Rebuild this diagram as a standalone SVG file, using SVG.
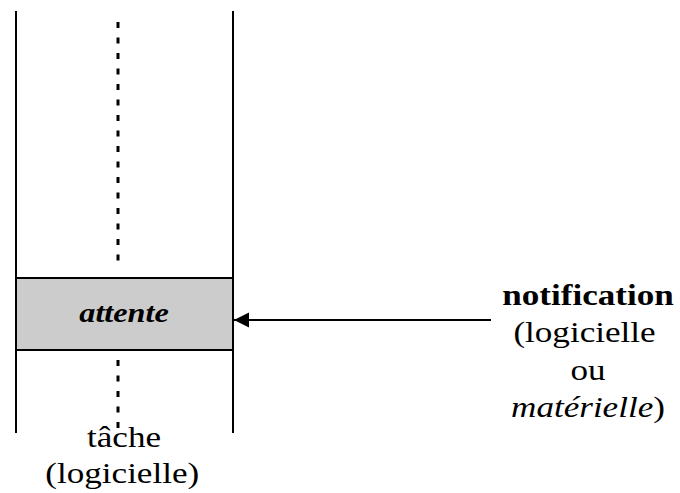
<svg xmlns="http://www.w3.org/2000/svg" width="680" height="493" viewBox="0 0 680 493">
<style>
.t{font-family:"Liberation Serif","Times New Roman",Times,"DejaVu Serif",serif;font-size:30px;fill:#000;text-anchor:middle}
.b{font-weight:bold}
.i{font-style:italic}
.ln{stroke:#000;stroke-width:2;fill:none}
.ds{stroke:#000;stroke-width:3;stroke-dasharray:6 9.5;fill:none}
</style>
<defs>
<marker id="ah" markerWidth="16" markerHeight="16" refX="15" refY="8" orient="auto" markerUnits="userSpaceOnUse">
<path d="M0,0.5 L15,8 L0,15.5 Z" fill="#000"/>
</marker>
</defs>
<rect width="680" height="493" fill="#fff"/>
<g id="tache">
<line class="ln" x1="16" y1="11" x2="16" y2="433"/>
<line class="ln" x1="233" y1="11" x2="233" y2="433"/>
<line class="ds" x1="118" y1="22" x2="118" y2="262"/>
<line class="ds" x1="118" y1="360" x2="118" y2="430"/>
<g transform="translate(124,0) scale(1.17,1)">
<text class="t" x="0" y="447">tâche</text>
<text class="t" x="-1.5" y="483">(logicielle)</text>
</g>
</g>
<g id="attente">
<rect x="16" y="278" width="217" height="72" fill="#cccccc" stroke="#000" stroke-width="2"/>
<g transform="translate(124,0) scale(1.15,1)">
<text class="t b i" x="0" y="322" style="font-size:28px">attente</text>
</g>
</g>
<g id="notification">
<g transform="translate(588,0) scale(1.17,1)">
<text class="t b" x="0" y="305">notification</text>
<text class="t" x="-3" y="342">(logicielle</text>
<text class="t" x="0" y="380">ou</text>
<text class="t" x="0" y="417"><tspan class="i">matérielle</tspan>)</text>
</g>
</g>
<g id="connectors">
<line class="ln" x1="491" y1="320" x2="234" y2="320" marker-end="url(#ah)"/>
</g>
</svg>
